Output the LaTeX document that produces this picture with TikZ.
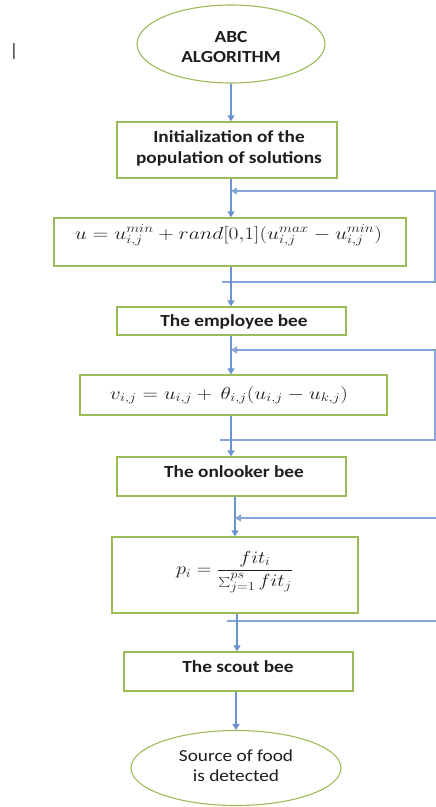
\RequirePackage{fix-cm}
\documentclass[tikz,border=0pt]{standalone}
\usepackage[no-math]{fontspec}
\setmainfont{Carlito}
\newfontfamily\lblfont[FakeStretch=1.14]{Carlito}
\usetikzlibrary{arrows.meta,shapes.geometric}
\definecolor{boxgreen}{HTML}{9BBB59}
\definecolor{flowblue}{HTML}{6A93D0}
\definecolor{loopblue}{HTML}{86A5D8}
\definecolor{inkc}{HTML}{1E1E1E}
\newcommand{\fitto}[2]{\resizebox{#1}{\height}{$\displaystyle #2$}}
\begin{document}
\begin{tikzpicture}[x=1bp,y=-1bp,
  box/.style={draw=boxgreen,line width=1.3bp,inner sep=0pt},
  term/.style={ellipse,draw=boxgreen,line width=1.1bp,inner sep=0pt},
  lbl/.style={text=inkc,inner sep=0pt,align=center,font=\lblfont\bfseries\fontsize{17}{21}\selectfont},
  lblreg/.style={text=inkc,inner sep=0pt,align=center,font=\lblfont\fontsize{17}{20}\selectfont},
  mathlbl/.style={text=inkc,inner sep=0pt,font=\fontsize{17.5}{20}\selectfont},
  flow/.style={draw=flowblue,line width=1.4bp,-{Triangle[width=7bp,length=6bp]}},
  loopline/.style={draw=loopblue,line width=1.2bp},
  looparr/.style={loopline,-{Triangle[width=7bp,length=6bp]}}]
\useasboundingbox (0,0) rectangle (436,807);
\fill[white] (0,0) rectangle (436,807);

% cursor mark
\node[text=inkc,inner sep=0pt,font=\fontsize{18}{18}\selectfont] (cursor) at (14,51) {|};

% shapes
\node[term,minimum width=188bp,minimum height=78bp] (start) at (231,44) {};
\node[lbl] (startt) at (231,47) {ABC\\ALGORITHM};

\node[box,minimum width=220bp,minimum height=56bp] (init) at (227,150) {};
\node[lbl] (initt) at (229,148.5) {Initialization of the\\population of solutions};

\node[box,minimum width=352bp,minimum height=48bp] (eq1) at (230,242) {};
\node[mathlbl] (eq1t) at (228.5,235) {\fitto{307bp}{u = u_{i,j}^{min} + rand[0{,}1]\bigl(u_{i,j}^{max} - u_{i,j}^{min}\bigr)}};

\node[box,minimum width=229bp,minimum height=28bp] (emp) at (231.5,321) {};
\node[lbl] (empt) at (234,321.5) {The employee bee};

\node[box,minimum width=307bp,minimum height=40bp] (eq2) at (233.5,395) {};
\node[mathlbl] (eq2t) at (229,395) {\fitto{238bp}{v_{i,j} = u_{i,j} +\, \theta_{i,j}\bigl(u_{i,j} - u_{k,j}\bigr)}};

\node[box,minimum width=229bp,minimum height=39bp] (onl) at (231.5,476.5) {};
\node[lbl] (onlt) at (234,472) {The onlooker bee};

\node[box,minimum width=246bp,minimum height=76bp] (eq3) at (235,575) {};
\node[mathlbl] (eq3t) at (234.5,572) {\fitto{117bp}{p_i = \frac{fit_i}{\sum_{j=1}^{ps} fit_j}}};

\node[box,minimum width=229bp,minimum height=39bp] (scout) at (238.5,671.5) {};
\node[lbl] (scoutt) at (238,667) {The scout bee};

\node[term,minimum width=210bp,minimum height=75bp] (finish) at (236,768) {};
\node[lblreg] (finisht) at (236,766) {Source of food\\is detected};

% junction coordinates
\coordinate (j1) at (231,191);
\coordinate (k1) at (222,282);
\coordinate (r1b) at (435,282);
\coordinate (r1t) at (435,191);
\coordinate (j2) at (231,350);
\coordinate (k2) at (220,440);
\coordinate (r2b) at (435,440);
\coordinate (r2t) at (435,350);
\coordinate (j3) at (235,518);
\coordinate (r3t) at (437,518);
\coordinate (k3) at (227,621);
\coordinate (r3b) at (437,621);
\coordinate (s4) at (237,0);

% connectors
\draw[flow] (start.south) -- (start.south |- init.north);
\draw[flow] (init.south -| j1) -- (eq1.north -| j1);
\draw[looparr] (k1) -- (r1b) -- (r1t) -- (j1);
\draw[flow] (eq1.south -| j1) -- (emp.north -| j1);
\draw[flow] (emp.south -| j2) -- (eq2.north -| j2);
\draw[looparr] (k2) -- (r2b) -- (r2t) -- (j2);
\draw[flow] (eq2.south -| j2) -- (onl.north -| j2);
\draw[flow] (onl.south -| j3) -- (eq3.north -| j3);
\draw[looparr] (r3t) -- (j3);
\draw[loopline] (k3) -- (r3b);
\draw[flow] (eq3.south -| s4) -- (scout.north -| s4);
\draw[flow] (scout.south -| finish.north) -- (finish.north);
\end{tikzpicture}
\end{document}
